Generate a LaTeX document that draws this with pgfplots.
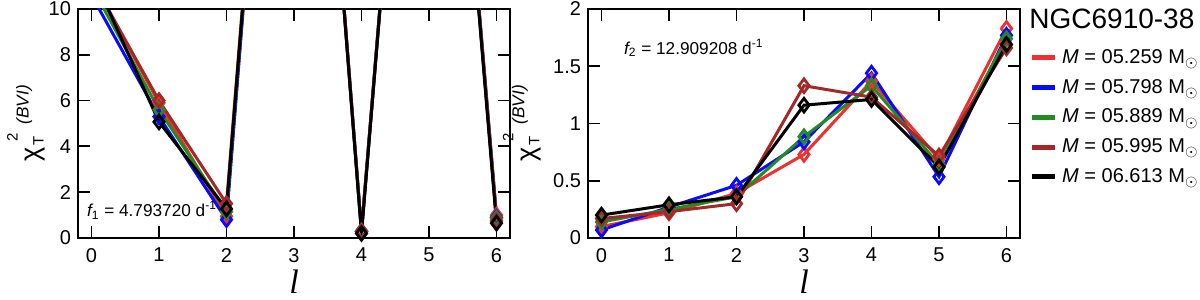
\documentclass[border=0pt]{standalone}
\usepackage{pgfplots}
\pgfplotsset{compat=1.18}
\usepackage{fontspec}
\setmainfont{Liberation Sans}
\newfontfamily\seriffont{Liberation Serif}
\definecolor{cred}{RGB}{238,48,48}
\definecolor{cblue}{RGB}{10,10,255}
\definecolor{cgreen}{RGB}{34,139,34}
\definecolor{cbrown}{RGB}{165,40,40}
\definecolor{cblack}{RGB}{0,0,0}
\newcommand{\chilabel}{{\fontsize{13.5}{13.5}\selectfont χ}\makebox[0pt][l]{\hspace{1.2pt}\raisebox{-2pt}{\fontsize{7.5}{7.5}\selectfont T}}\hspace{3pt}\raisebox{11pt}{\fontsize{7.5}{7.5}\selectfont 2}\hspace{4.5pt}\raisebox{5.5pt}{\fontsize{8.6}{8.6}\selectfont\itshape (BVI)}}
\pgfplotsset{
  chistyle/.style={
    scale only axis, width=216pt, height=114.5pt,
    xmin=-0.2, xmax=6.2, xtick={0,...,6},
    axis line style={line width=0.9pt},
    major tick length=6pt,
    tick style={line width=0.9pt, black},
    tick align=inside,
    ticklabel style={font=\fontsize{10}{10}\selectfont},
    xticklabel style={yshift=-1.5pt},
    /pgf/number format/assume math mode=true,
    xlabel={\fontsize{17}{17}\selectfont\seriffont\itshape l},
    xlabel style={at={(axis description cs:0.5,-0.19)}, anchor=center},
    ylabel={\chilabel},
    ylabel style={anchor=center},
    every axis plot/.append style={line width=1.5pt, mark=diamond, mark size=3.4pt, mark options={line width=1.4pt, solid}},
    legend image code/.code={\draw[line width=2.6pt, mark=none] (0pt,0pt) -- (11.5pt,0pt);},
  }
}
\begin{document}
\begin{tikzpicture}
\useasboundingbox (-39pt,-31pt) rectangle (561pt,119pt);
\begin{axis}[chistyle, ymin=0, ymax=10, ytick={0,2,...,10},
  ylabel style={at={(axis description cs:-0.12,0.5)}}]
\addplot[cred] coordinates {(0,11.3) (1,5.9) (2,0.95) (3,38) (4,0.3) (5,36) (6,1.0)};
\addplot[cblue] coordinates {(0,10.6) (1,5.3) (2,0.8) (3,38) (4,0.28) (5,36) (6,0.9)};
\addplot[cgreen] coordinates {(0,11.0) (1,5.6) (2,1.15) (3,38) (4,0.28) (5,36) (6,0.85)};
\addplot[cbrown] coordinates {(0,11.3) (1,6.0) (2,1.5) (3,38) (4,0.3) (5,36) (6,0.75)};
\addplot[cblack] coordinates {(0,11.6) (1,5.07) (2,1.27) (3,38) (4,0.2) (5,36) (6,0.65)};
\node[anchor=west, font=\fontsize{8.6}{8.6}\selectfont] at (axis cs:-0.17,1.22) {{\itshape f}\textsubscript{1} = 4.793720 d\textsuperscript{-1}};
\end{axis}
\begin{axis}[chistyle, name=R, xshift=255pt, ymin=0, ymax=2, ytick={0,0.5,...,2},
  ylabel style={at={(axis description cs:-0.153,0.5)}},
  legend cell align=left,
  legend style={at={(rel axis cs:1.02,0.83)}, anchor=north west, draw=none, fill=none, inner sep=0pt,
    font=\fontsize{10}{10}\selectfont, row sep=5.4pt, nodes={inner xsep=2.5pt, inner ysep=0.5pt}}]
\addplot[cred] coordinates {(0,0.10) (1,0.22) (2,0.39) (3,0.73) (4,1.37) (5,0.69) (6,1.83)};
\addlegendentry{{\itshape M} = 05.259 M\raisebox{-0.4ex}{\scalebox{0.8}{$\odot$}}}
\addplot[cblue] coordinates {(0,0.07) (1,0.27) (2,0.46) (3,0.84) (4,1.44) (5,0.535) (6,1.77)};
\addlegendentry{{\itshape M} = 05.798 M\raisebox{-0.4ex}{\scalebox{0.8}{$\odot$}}}
\addplot[cgreen] coordinates {(0,0.14) (1,0.25) (2,0.36) (3,0.885) (4,1.33) (5,0.64) (6,1.74)};
\addlegendentry{{\itshape M} = 05.889 M\raisebox{-0.4ex}{\scalebox{0.8}{$\odot$}}}
\addplot[cbrown] coordinates {(0,0.17) (1,0.23) (2,0.30) (3,1.33) (4,1.23) (5,0.716) (6,1.66)};
\addlegendentry{{\itshape M} = 05.995 M\raisebox{-0.4ex}{\scalebox{0.8}{$\odot$}}}
\addplot[cblack] coordinates {(0,0.20) (1,0.29) (2,0.36) (3,1.16) (4,1.21) (5,0.62) (6,1.69)};
\addlegendentry{{\itshape M} = 06.613 M\raisebox{-0.4ex}{\scalebox{0.8}{$\odot$}}}
\node[anchor=west, font=\fontsize{8.6}{8.6}\selectfont] at (axis cs:0.23,1.66) {{\itshape f}\textsubscript{2} = 12.909208 d\textsuperscript{-1}};
\end{axis}
\node[anchor=west, font=\fontsize{14}{14}\selectfont, inner sep=0pt] at ([xshift=4.5pt,yshift=-4.8pt]R.north east) {NGC6910-38};
\end{tikzpicture}
\end{document}
